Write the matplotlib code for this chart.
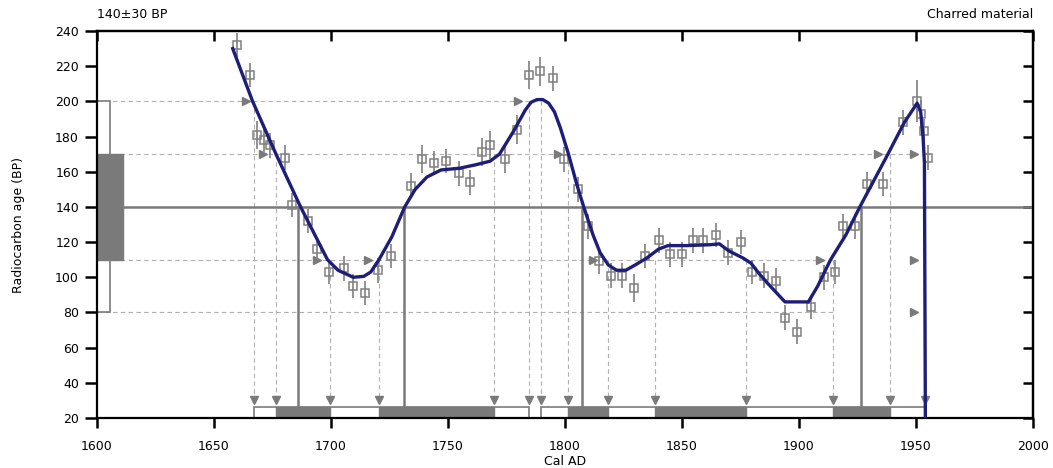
import matplotlib
matplotlib.use("Agg")
import matplotlib.pyplot as plt
from matplotlib.patches import Rectangle

plt.rcParams['font.family'] = ['DejaVu Sans']

# ---- data ----
# calibration curve (Cal AD, BP)
curve_year = [1658, 1666.5, 1676.5, 1687, 1698.5, 1703, 1709.5, 1714, 1717, 1720.5,
              1726, 1731.5, 1736, 1741, 1747, 1755, 1762, 1768, 1772, 1778,
              1783, 1785.5, 1788, 1790.5, 1793, 1795.5, 1798, 1801.5, 1805, 1808, 1812, 1815,
              1818.5, 1822, 1826, 1830, 1835, 1840, 1844, 1852, 1862, 1866,
              1870, 1876, 1879.5, 1883, 1887, 1894, 1904, 1908, 1913.5, 1920,
              1926, 1932, 1938, 1945, 1950.5, 1952, 1953, 1953.6, 1954]
curve_bp = [230, 200, 170, 140, 110, 104, 100, 100.5, 103, 110,
            123, 140, 150, 157, 161, 162, 164, 166, 170, 183,
            195, 199.5, 201, 201, 199, 194, 185, 170, 153, 140, 124, 114,
            107, 104, 104, 107, 111, 116, 118, 118, 118.5, 119,
            115, 111, 108, 102, 96, 86, 86, 95, 110, 124,
            140, 155, 170, 188, 199, 194, 180, 165, 20]

# calibration data points
pt_year = [1660, 1665.5, 1668.5, 1671.5, 1674, 1680.5, 1683.5, 1690, 1694, 1699,
           1705.5, 1709.5, 1714.5, 1720, 1725.5, 1734, 1739, 1744, 1749, 1754.5,
           1759.5, 1764.5, 1768, 1774.5, 1779.5, 1784.5, 1789.5, 1795, 1799.5, 1805.5,
           1810, 1814.5, 1819.5, 1824.5, 1829.5, 1834, 1840, 1845, 1850, 1854.5,
           1859, 1864.5, 1869.5, 1875, 1880, 1885, 1890, 1894, 1899, 1905,
           1910.5, 1915.5, 1919, 1924, 1929, 1936, 1944.5, 1950.5, 1952, 1953.5, 1955]
pt_bp = [232, 215, 181, 178, 175, 168, 141, 132, 116, 103,
         105, 95, 91, 104, 112, 152, 167, 165, 166, 159,
         154, 171, 175, 167, 184, 215, 217, 213, 167, 150,
         129, 109, 101, 101, 94, 112, 121, 113, 113, 121,
         121, 124, 114, 120, 103, 101, 98, 77, 69, 83,
         100, 103, 129, 129, 153, 153, 188, 200, 193, 183, 168]
pt_err = [7, 7, 8, 7, 7, 7, 7, 7, 7, 7,
          7, 7, 7, 7, 7, 7, 8, 7, 7, 7,
          7, 8, 8, 8, 8, 8, 8, 7, 7, 7,
          7, 7, 7, 7, 8, 7, 7, 7, 7, 7,
          7, 7, 7, 7, 7, 7, 7, 7, 7, 7,
          7, 7, 7, 7, 7, 7, 7, 12, 8, 7, 7]

sample_bp = 140
level_2s = [80, 200]
level_1s = [110, 170]

# range boundaries (Cal AD)
range_2s = [(1667.3, 1784.5), (1789.6, 1953.9)]
range_1s = [(1676.7, 1699.4), (1720.3, 1769.5), (1801.2, 1818.3), (1838.4, 1877.3), (1914.5, 1938.9)]
# crossing points (year, level)
crossings = [(1667.3, 200), (1676.7, 170), (1699.4, 110), (1720.3, 110), (1769.5, 170),
             (1784.5, 200), (1789.6, 200), (1801.2, 170), (1818.3, 110), (1838.4, 110),
             (1877.3, 110), (1914.5, 110), (1938.9, 170), (1953.9, 80)]
# right-pointing arrow markers on the level lines
arrow_year = [1663.5, 1671, 1694, 1715.6, 1780, 1797, 1812, 1909, 1933.6, 1949, 1949, 1949]
arrow_bp = [200, 170, 110, 110, 200, 170, 110, 110, 170, 170, 110, 80]
# intercepts with 140 BP
intercepts = [1686, 1731.4, 1807.3, 1926.6]
# extents of dashed level lines
level_ends = {200: 1788, 170: 1956, 110: 1914.5, 80: 1914.5}

xticks = [1600, 1650, 1700, 1750, 1800, 1850, 1900, 1950, 2000]
yticks = list(range(20, 241, 20))

# ---- figure ----
fig = plt.figure(figsize=(10.53, 4.68), dpi=100)
ax = fig.add_axes([97/1053, 1-418/468, (1033-97)/1053, (418-31)/468])
ax.set_xlim(1600, 2000)
ax.set_ylim(20, 240)

gray = '#808080'
dgray = '#7a7a7a'
lgray = '#b0b0b0'
navy = '#1e1e78'

# dashed level lines
for lvl, xe in level_ends.items():
    ax.plot([1600, xe], [lvl, lvl], color=lgray, lw=0.8, ls=(0, (4, 3)), zorder=1)
# vertical dashed lines at crossings
for (xc, lvl) in crossings:
    ax.plot([xc, xc], [lvl, 29], color=lgray, lw=0.8, ls=(0, (4, 3)), zorder=1)
ax.plot([x for x, _ in crossings], [30.5] * len(crossings), ls='none', marker='v',
        ms=6, color=dgray, zorder=3)
ax.plot(arrow_year, arrow_bp, ls='none', marker='>', ms=6, color=dgray, zorder=3)

# 140 BP line
ax.axhline(sample_bp, color=dgray, lw=1.8, zorder=2)
# intercept vertical lines
for xi in intercepts:
    ax.plot([xi, xi], [sample_bp, 26], color=dgray, lw=1.8, zorder=2)

# probability boxes on y axis
ax.add_patch(Rectangle((1600, level_2s[0]), 5.6, level_2s[1] - level_2s[0],
                       facecolor='white', edgecolor=dgray, lw=1.2, zorder=2))
ax.add_patch(Rectangle((1600, level_1s[0]), 11, level_1s[1] - level_1s[0],
                       facecolor=dgray, edgecolor=dgray, lw=1, zorder=2.5))

# range bars on x axis
for a, b in range_2s:
    ax.add_patch(Rectangle((a, 20), b - a, 6, facecolor='white', edgecolor=dgray,
                           lw=1.2, zorder=2))
for a, b in range_1s:
    ax.add_patch(Rectangle((a, 20), b - a, 6, facecolor=dgray, edgecolor=dgray,
                           lw=1, zorder=2.5))

# data points
ax.errorbar(pt_year, pt_bp, yerr=pt_err, fmt='s', ms=6, mfc='none', mec=gray,
            ecolor=gray, elinewidth=1.2, mew=1.1, capsize=0, zorder=4)

# calibration curve
ax.plot(curve_year, curve_bp, color=navy, lw=2.4, zorder=5, solid_joinstyle='round')

# axes styling
for s in ax.spines.values():
    s.set_linewidth(1.6)
    s.set_color('black')
ax.set_xticks(xticks)
ax.set_yticks(yticks)
ax.tick_params(axis='both', which='major', direction='out', width=1.8,
               labelsize=9, colors='black')
ax.tick_params(axis='x', length=7, pad=9)
ax.tick_params(axis='y', length=9, pad=4)

top = ax.secondary_xaxis('top')
top.set_xticks(xticks)
top.tick_params(direction='in', length=7, width=1.8, labeltop=False)
right = ax.secondary_yaxis('right')
right.set_yticks(yticks)
right.tick_params(direction='in', length=7, width=1.8, labelright=False)
for sa in (top, right):
    for s in sa.spines.values():
        s.set_linewidth(1.6)

ax.set_xlabel('Cal AD', fontsize=9, labelpad=1)
ax.set_ylabel('Radiocarbon age (BP)', fontsize=9, labelpad=22)

fig.text(97/1053, 1 - 15/468, '140±30 BP', fontsize=9, ha='left', va='center')
fig.text(1033/1053, 1 - 15/468, 'Charred material', fontsize=9, ha='right', va='center')

fig.savefig('out.png', dpi=100)
